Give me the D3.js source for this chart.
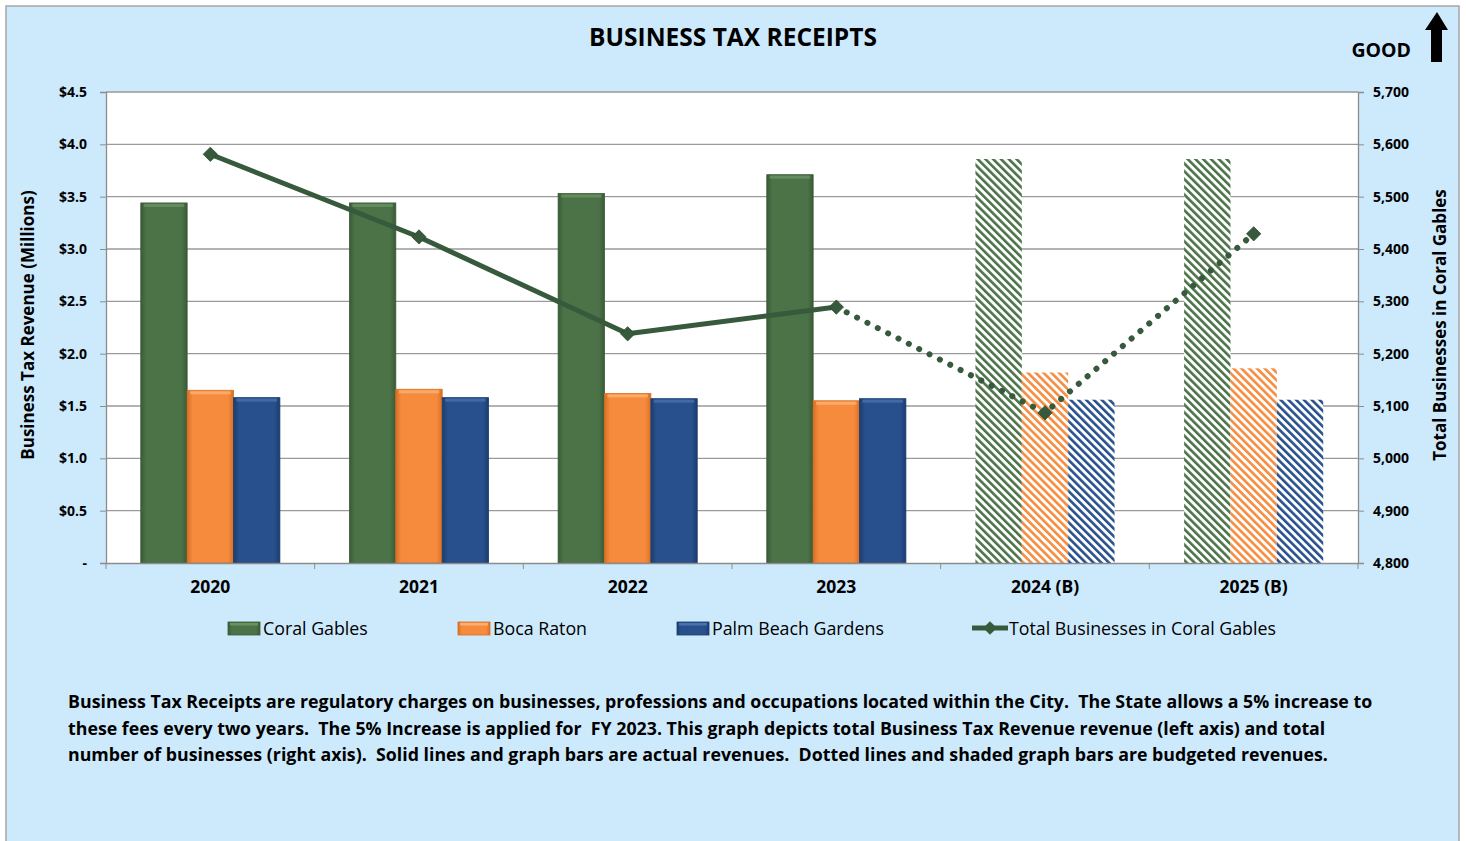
<!DOCTYPE html>
<html>
<head>
<meta charset="utf-8">
<script src="https://cdn.jsdelivr.net/npm/d3@7"></script>
<style>
  body { margin: 0; background: #fff; }
  text { font-family: "Open Sans", "DejaVu Sans", sans-serif; }
</style>
</head>
<body>
<div id="chart"></div>
<script>
// chart values
var years = ["2020", "2021", "2022", "2023", "2024 (B)", "2025 (B)"];
var budgeted = [false, false, false, false, true, true];
var coralGables = [3.44, 3.44, 3.53, 3.71, 3.86, 3.86];
var bocaRaton = [1.65, 1.66, 1.62, 1.55, 1.82, 1.86];
var palmBeachGardens = [1.58, 1.58, 1.57, 1.57, 1.56, 1.56];
var totalBusinesses = [5581, 5423, 5238, 5289, 5087, 5429];
var seriesNames = ["Coral Gables", "Boca Raton", "Palm Beach Gardens"];
var leftTicks = [0, 0.5, 1, 1.5, 2, 2.5, 3, 3.5, 4, 4.5];
var rightTicks = [4800, 4900, 5000, 5100, 5200, 5300, 5400, 5500, 5600, 5700];

var width = 1466, height = 841;
var plot = {left: 106, right: 1358, top: 92, bottom: 563};

var colors = {
  "Coral Gables": {base: "#4b7347", light: "#6a9163", dark: "#3a5a37"},
  "Boca Raton": {base: "#f68b3e", light: "#fbb073", dark: "#d86f22"},
  "Palm Beach Gardens": {base: "#27508c", light: "#4a72ad", dark: "#1b3d6e"}
};
var lineColor = "#385a3c";

var svg = d3.select("#chart").append("svg")
    .attr("width", width)
    .attr("height", height);

var defs = svg.append("defs");

// gradients for solid bars + stripe patterns for budget bars
seriesNames.forEach(function(name, i) {
  var c = colors[name];
  var g = defs.append("linearGradient")
      .attr("id", "grad" + i)
      .attr("x1", 0).attr("x2", 1).attr("y1", 0).attr("y2", 0);
  g.append("stop").attr("offset", "0%").attr("stop-color", c.dark);
  g.append("stop").attr("offset", "12%").attr("stop-color", c.base);
  g.append("stop").attr("offset", "50%").attr("stop-color", c.base);
  g.append("stop").attr("offset", "88%").attr("stop-color", c.base);
  g.append("stop").attr("offset", "100%").attr("stop-color", c.dark);

  var p = defs.append("pattern")
      .attr("id", "hatch" + i)
      .attr("patternUnits", "userSpaceOnUse")
      .attr("width", 5.5).attr("height", 5.5)
      .attr("patternTransform", "rotate(-45)");
  p.append("rect").attr("width", 5.5).attr("height", 5.5).attr("fill", "#fff");
  p.append("rect").attr("width", 2.6).attr("height", 5.5).attr("fill", c.base);
});

// page background
svg.append("rect")
    .attr("x", 6).attr("y", 6)
    .attr("width", 1453).attr("height", 840)
    .attr("fill", "#cdeafd")
    .attr("stroke", "#a6a6a6")
    .attr("stroke-width", 1.5);

// plot area
svg.append("rect")
    .attr("x", plot.left).attr("y", plot.top)
    .attr("width", plot.right - plot.left).attr("height", plot.bottom - plot.top)
    .attr("fill", "#fff");

var x = d3.scaleBand().domain(years).range([plot.left, plot.right]).padding(0);
var xs = d3.scaleBand().domain(seriesNames).range([0, x.bandwidth()]).paddingInner(0).paddingOuter(0.75);
var yL = d3.scaleLinear().domain([0, 4.5]).range([plot.bottom, plot.top]);
var yR = d3.scaleLinear().domain([4800, 5700]).range([plot.bottom, plot.top]);

// gridlines
svg.append("g").selectAll("line")
    .data(leftTicks.slice(1))
    .enter().append("line")
    .attr("x1", plot.left).attr("x2", plot.right)
    .attr("y1", function(d) { return yL(d); })
    .attr("y2", function(d) { return yL(d); })
    .attr("stroke", "#9a9a9a")
    .attr("stroke-width", 1.3);

// left axis
var leftAxis = svg.append("g")
    .attr("transform", "translate(" + plot.left + ",0)")
    .call(d3.axisLeft(yL).tickValues(leftTicks).tickSize(6).tickPadding(13)
      .tickFormat(function(d) { return d === 0 ? "-" : "$" + d3.format(".1f")(d); }));
leftAxis.select(".domain").attr("stroke", "#8c8c8c").attr("stroke-width", 1.3);
leftAxis.selectAll(".tick line").attr("stroke", "#8c8c8c");
leftAxis.selectAll("text").attr("font-size", 14).attr("font-weight", "bold").attr("fill", "#000");

// right axis
var rightAxis = svg.append("g")
    .attr("transform", "translate(" + plot.right + ",0)")
    .call(d3.axisRight(yR).tickValues(rightTicks).tickSize(6).tickPadding(9)
      .tickFormat(d3.format(",")));
rightAxis.select(".domain").attr("stroke", "#8c8c8c").attr("stroke-width", 1.3);
rightAxis.selectAll(".tick line").attr("stroke", "#8c8c8c");
rightAxis.selectAll("text").attr("font-size", 14).attr("font-weight", "bold").attr("fill", "#000");

// bars
var barData = [];
years.forEach(function(yr, i) {
  [coralGables, bocaRaton, palmBeachGardens].forEach(function(arr, s) {
    barData.push({year: yr, series: seriesNames[s], idx: s, value: arr[i], budget: budgeted[i]});
  });
});

svg.append("g").selectAll("rect")
    .data(barData)
    .enter().append("rect")
    .attr("x", function(d) { return x(d.year) + xs(d.series); })
    .attr("y", function(d) { return yL(d.value); })
    .attr("width", xs.bandwidth())
    .attr("height", function(d) { return plot.bottom - yL(d.value); })
    .attr("fill", function(d) { return d.budget ? "url(#hatch" + d.idx + ")" : "url(#grad" + d.idx + ")"; })
    .attr("stroke", function(d) { return d.budget ? "none" : colors[d.series].dark; })
    .attr("stroke-width", 0.8);

// top highlight on solid bars
svg.append("g").selectAll("rect")
    .data(barData.filter(function(d) { return !d.budget; }))
    .enter().append("rect")
    .attr("x", function(d) { return x(d.year) + xs(d.series) + 3; })
    .attr("y", function(d) { return yL(d.value) + 1; })
    .attr("width", xs.bandwidth() - 6)
    .attr("height", 3)
    .attr("fill", function(d) { return colors[d.series].light; })
    .attr("opacity", 0.8);

// x axis
var xAxis = svg.append("g")
    .attr("transform", "translate(0," + plot.bottom + ")")
    .call(d3.axisBottom(x).tickSize(0).tickPadding(18));
xAxis.select(".domain").attr("stroke", "#8c8c8c").attr("stroke-width", 1.3);
xAxis.selectAll("text").attr("font-size", 17.5).attr("font-weight", "bold").attr("fill", "#000");
svg.append("g").selectAll("line")
    .data(years)
    .enter().append("line")
    .attr("x1", function(d) { return x(d); })
    .attr("x2", function(d) { return x(d); })
    .attr("y1", plot.bottom).attr("y2", plot.bottom + 6)
    .attr("stroke", "#8c8c8c");
svg.append("line")
    .attr("x1", plot.right).attr("x2", plot.right)
    .attr("y1", plot.bottom).attr("y2", plot.bottom + 6)
    .attr("stroke", "#8c8c8c");

// total businesses line: solid for actuals, dotted into the budget years
var pts = years.map(function(yr, i) {
  return {x: x(yr) + x.bandwidth() / 2, y: yR(totalBusinesses[i]), budget: budgeted[i]};
});
var line = d3.line().x(function(d) { return d.x; }).y(function(d) { return d.y; });
var lastActual = budgeted.indexOf(true) - 1;

svg.append("path")
    .attr("d", line(pts.slice(0, lastActual + 1)))
    .attr("fill", "none")
    .attr("stroke", lineColor)
    .attr("stroke-width", 5)
    .attr("stroke-linejoin", "round");

svg.append("path")
    .attr("d", line(pts.slice(lastActual)))
    .attr("fill", "none")
    .attr("stroke", lineColor)
    .attr("stroke-width", 6)
    .attr("stroke-linecap", "round")
    .attr("stroke-dasharray", "0.1 11.5");

svg.append("g").selectAll("path")
    .data(pts)
    .enter().append("path")
    .attr("d", d3.symbol().type(d3.symbolDiamond2).size(130))
    .attr("transform", function(d) { return "translate(" + d.x + "," + d.y + ")"; })
    .attr("fill", lineColor)
    .attr("stroke", "#2c4a30")
    .attr("stroke-width", 0.8);

// title
svg.append("text")
    .attr("x", 733).attr("y", 46)
    .attr("text-anchor", "middle")
    .attr("font-size", 24.5).attr("font-weight", "bold")
    .text("BUSINESS TAX RECEIPTS");

// GOOD marker
svg.append("text")
    .attr("x", 1411).attr("y", 57)
    .attr("text-anchor", "end")
    .attr("font-size", 19.5).attr("font-weight", "bold")
    .text("GOOD");
svg.append("path")
    .attr("d", "M1437,12 L1448,30 L1442,30 L1442,62 L1431,62 L1431,30 L1425,30 Z")
    .attr("fill", "#000");

// axis titles
svg.append("text")
    .attr("transform", "translate(34,325) rotate(-90)")
    .attr("text-anchor", "middle")
    .attr("font-size", 17).attr("font-weight", "bold")
    .text("Business Tax Revenue (Millions)");
svg.append("text")
    .attr("transform", "translate(1446,325) rotate(-90)")
    .attr("text-anchor", "middle")
    .attr("font-size", 17).attr("font-weight", "bold")
    .text("Total Businesses in Coral Gables");

// legend
var legendX = [228, 458, 677];
seriesNames.forEach(function(name, i) {
  var g = svg.append("g").attr("transform", "translate(" + legendX[i] + ",622)");
  g.append("rect")
      .attr("width", 32).attr("height", 13)
      .attr("fill", "url(#grad" + i + ")")
      .attr("stroke", colors[name].dark).attr("stroke-width", 0.8);
  g.append("rect")
      .attr("x", 2).attr("y", 1).attr("width", 28).attr("height", 2.5)
      .attr("fill", colors[name].light);
  g.append("text")
      .attr("x", 35).attr("y", 13)
      .attr("font-size", 17.8)
      .text(name);
});
var lg = svg.append("g").attr("transform", "translate(972,628)");
lg.append("line").attr("x1", 0).attr("x2", 36).attr("stroke", lineColor).attr("stroke-width", 5);
lg.append("path")
    .attr("d", d3.symbol().type(d3.symbolDiamond2).size(120))
    .attr("transform", "translate(18,0)")
    .attr("fill", lineColor);
lg.append("text")
    .attr("x", 37).attr("y", 7)
    .attr("font-size", 17.8)
    .text("Total Businesses in Coral Gables");

// note
var note = [
  "Business Tax Receipts are regulatory charges on businesses, professions and occupations located within the City.  The State allows a 5% increase to",
  "these fees every two years.  The 5% Increase is applied for  FY 2023. This graph depicts total Business Tax Revenue revenue (left axis) and total",
  "number of businesses (right axis).  Solid lines and graph bars are actual revenues.  Dotted lines and shaded graph bars are budgeted revenues."
];
svg.append("g").selectAll("text")
    .data(note)
    .enter().append("text")
    .attr("x", 68)
    .attr("y", function(d, i) { return 708 + i * 26.5; })
    .attr("font-size", 17.8).attr("font-weight", "bold")
    .attr("xml:space", "preserve")
    .style("white-space", "pre")
    .text(function(d) { return d; });
</script>
</body>
</html>
